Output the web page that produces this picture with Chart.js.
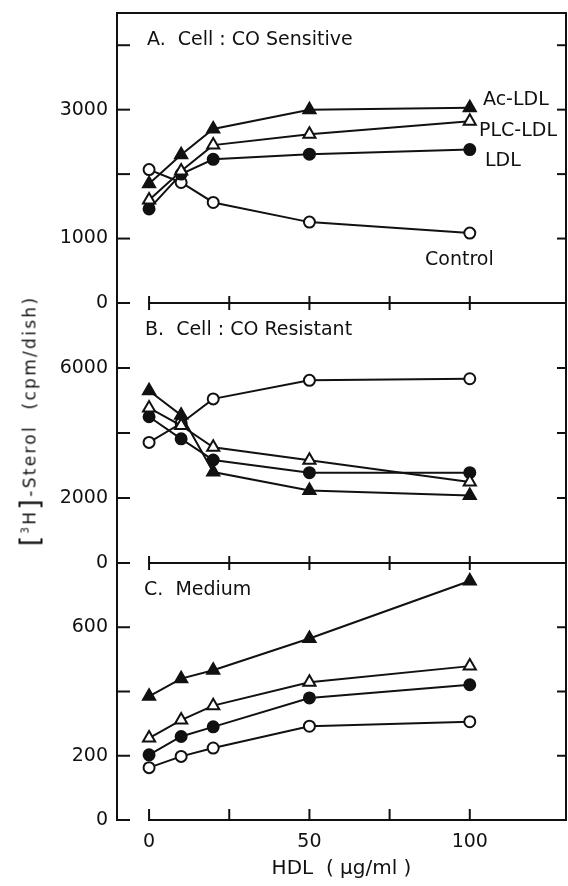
<!DOCTYPE html>
<html>
<head>
<meta charset="utf-8">
<script src="https://cdn.jsdelivr.net/npm/chart.js@4"></script>
<style>
  html, body { margin: 0; padding: 0; background: #fff; overflow: hidden; }
  #wrap { position: relative; width: 568px; height: 886px; }
  #chart { display: block; }
  #yTitle {
    position: absolute; left: 29px; top: 421px;
    transform: translate(-50%, -50%) rotate(-90deg);
    white-space: nowrap; font: 17px "DejaVu Sans"; letter-spacing: 2.3px; color: #111;
  }
  #yTitle .br { font-size: 27px; vertical-align: -3px; }
  #yTitle sup { font-size: 10px; }
</style>
</head>
<body>
<div id="wrap">
  <canvas id="chart" width="568" height="886"></canvas>
  <div id="yTitle"><span class="br">[</span><sup>3</sup>H<span class="br">]</span>-Sterol&nbsp;&nbsp;(cpm/dish)</div>
</div>
<script>
const hdl = [0, 10, 20, 50, 100];

// A. Cell : CO Sensitive
const aAcLdl = [1850, 2300, 2700, 3000, 3030];
const aPlcLdl = [1600, 2050, 2450, 2620, 2820];
const aLdl = [1460, 2000, 2230, 2310, 2380];
const aControl = [2070, 1870, 1560, 1255, 1085];

// B. Cell : CO Resistant
const bAcLdl = [5300, 4550, 2800, 2230, 2080];
const bPlcLdl = [4770, 4230, 3560, 3160, 2490];
const bLdl = [4500, 3820, 3170, 2780, 2780];
const bControl = [3710, 4300, 5050, 5620, 5670];

// C. Medium
const cAcLdl = [385, 440, 466, 565, 744];
const cPlcLdl = [255, 311, 356, 429, 479];
const cLdl = [203, 260, 290, 380, 421];
const cControl = [163, 198, 224, 292, 306];

const ticksA = [0, 1000, 2000, 3000, 4000];
const labelsA = [0, 1000, 3000];
const ticksB = [0, 2000, 4000, 6000];
const labelsB = [0, 2000, 6000];
const ticksC = [0, 200, 400, 600];
const labelsC = [0, 200, 600];
const xTicks = [0, 25, 50, 75, 100];
const xLabels = [0, 50, 100];

const INK = '#111';
const FONT = '"DejaVu Sans", sans-serif';

// no extra room for half-labels at the ends, the frame sits on the padding
function noPad(s) {
  s.paddingTop = 0; s.paddingBottom = 0; s.paddingLeft = 0; s.paddingRight = 0;
}

function makeSet(values, axis, shape, filled) {
  return {
    data: hdl.map((x, i) => ({ x: x, y: values[i] })),
    yAxisID: axis,
    borderColor: INK,
    borderWidth: 2,
    pointStyle: shape,
    pointRadius: shape === 'triangle' ? 7 : 5.5,
    pointBackgroundColor: filled ? INK : '#fff',
    pointBorderColor: INK,
    pointBorderWidth: 2,
    tension: 0
  };
}

function yAxis(max, weight, ticks, labels, order) {
  return {
    type: 'linear',
    position: 'left',
    stack: 'panels',
    stackWeight: weight,
    weight: order,
    min: 0,
    max: max,
    grid: { display: false, drawTicks: false },
    border: { display: false },
    afterBuildTicks: s => { s.ticks = ticks.map(v => ({ value: v })); },
    afterFit: s => { s.width = 117; noPad(s); },
    ticks: {
      autoSkip: false,
      padding: 9,
      color: INK,
      font: { family: FONT, size: 19 },
      callback: v => labels.includes(v) ? String(v) : ''
    }
  };
}

const framePlugin = {
  id: 'frame',
  beforeDatasetsDraw(chart) {
    const { ctx, chartArea: ca, scales } = chart;
    const x = scales.x;
    const x0 = x.getPixelForValue(0);
    const line = (x1, y1, x2, y2) => { ctx.beginPath(); ctx.moveTo(x1, y1); ctx.lineTo(x2, y2); ctx.stroke(); };
    ctx.save();
    ctx.strokeStyle = INK;
    ctx.lineWidth = 2;
    ctx.lineCap = 'square';
    line(ca.left, ca.bottom, ca.left, ca.top);
    line(ca.left, ca.top, ca.right, ca.top);
    line(ca.right, ca.top, ca.right, ca.bottom);
    // bottom axis
    line(x0, ca.bottom, ca.right, ca.bottom);
    xTicks.forEach(v => { const px = x.getPixelForValue(v); line(px, ca.bottom, px, ca.bottom - 10); });
    // panel separators with crossing ticks
    [scales.yA.bottom, scales.yB.bottom].forEach(y => {
      line(x0, y, ca.right, y);
      xTicks.forEach(v => { const px = x.getPixelForValue(v); line(px, y - 6, px, y + 6); });
    });
    // y ticks, inward on both sides
    [[scales.yA, ticksA], [scales.yB, ticksB], [scales.yC, ticksC]].forEach(([s, t]) => {
      t.forEach(v => {
        const py = s.getPixelForValue(v);
        line(ca.left, py, ca.left + 12, py);
        if (v !== 0) line(ca.right - 8, py, ca.right, py);
      });
    });
    ctx.restore();
  },
  afterDraw(chart) {
    const { ctx } = chart;
    ctx.save();
    ctx.fillStyle = INK;
    ctx.font = '19px ' + FONT;
    ctx.textBaseline = 'middle';
    ctx.fillText('A.  Cell : CO Sensitive', 147, 40);
    ctx.fillText('B.  Cell : CO Resistant', 145, 330);
    ctx.fillText('C.  Medium', 144, 590);
    ctx.fillText('Ac-LDL', 483, 100);
    ctx.fillText('PLC-LDL', 479, 131);
    ctx.fillText('LDL', 485, 161);
    ctx.fillText('Control', 425, 260);
    ctx.restore();
  }
};

new Chart(document.getElementById('chart'), {
  type: 'line',
  data: {
    datasets: [
      makeSet(aAcLdl, 'yA', 'triangle', true),
      makeSet(aPlcLdl, 'yA', 'triangle', false),
      makeSet(aLdl, 'yA', 'circle', true),
      makeSet(aControl, 'yA', 'circle', false),
      makeSet(bAcLdl, 'yB', 'triangle', true),
      makeSet(bPlcLdl, 'yB', 'triangle', false),
      makeSet(bLdl, 'yB', 'circle', true),
      makeSet(bControl, 'yB', 'circle', false),
      makeSet(cAcLdl, 'yC', 'triangle', true),
      makeSet(cPlcLdl, 'yC', 'triangle', false),
      makeSet(cLdl, 'yC', 'circle', true),
      makeSet(cControl, 'yC', 'circle', false)
    ]
  },
  options: {
    responsive: false,
    animation: false,
    layout: { autoPadding: false, padding: { left: 0, right: 2, top: 13, bottom: 0 } },
    plugins: { legend: { display: false }, tooltip: { enabled: false } },
    scales: {
      x: {
        type: 'linear',
        min: -10,
        max: 130,
        grid: { display: false, drawTicks: false },
        border: { display: false },
        afterBuildTicks: s => { s.ticks = xTicks.map(v => ({ value: v })); },
        afterFit: s => { s.height = 66; noPad(s); },
        ticks: {
          autoSkip: false,
          maxRotation: 0,
          padding: 11,
          color: INK,
          font: { family: FONT, size: 19 },
          callback: v => xLabels.includes(v) ? String(v) : ''
        },
        title: {
          display: true,
          text: 'HDL  ( μg/ml )',
          color: INK,
          font: { family: FONT, size: 20 },
          padding: { top: 0, bottom: 5 }
        }
      },
      yA: yAxis(4500, 290, ticksA, labelsA, 3),
      yB: yAxis(8000, 260, ticksB, labelsB, 2),
      yC: yAxis(800, 257, ticksC, labelsC, 1)
    }
  },
  plugins: [framePlugin]
});
</script>
</body>
</html>
